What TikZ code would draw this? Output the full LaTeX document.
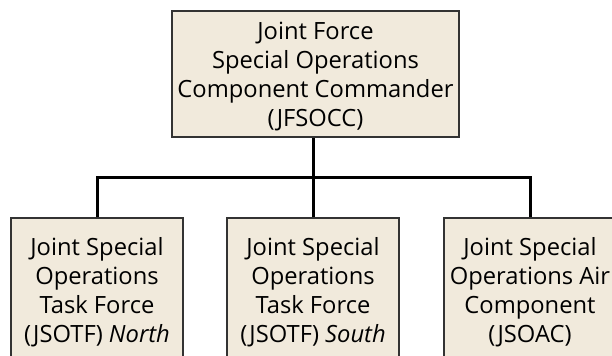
\documentclass[tikz,border=0pt]{standalone}
\usepackage{fontspec}
\setmainfont{Open Sans}
\usepackage{tikz}
\definecolor{unitfill}{RGB}{241,234,220}
\tikzset{
  unitbox/.style={draw=black!80, line width=1pt, fill=unitfill, align=center,
    inner sep=0pt, text depth=-4pt, font=\fontsize{17.8}{21.75}\selectfont},
  chain/.style={line width=2.25pt, black}
}

\begin{document}
\begin{tikzpicture}[x=0.75pt,y=0.75pt,yscale=-1,xscale=1]
\useasboundingbox (0,0) rectangle (612,356); %page is 612 x 356, lower boxes run off it

%Shape: Rectangle [id:jfsocc]
\node [unitbox, minimum width=215.25pt, minimum height=94.5pt] (jfsocc) at (315.5,74)
  {Joint Force\\Special Operations\\Component Commander\\(JFSOCC)};

%Shape: Rectangle [id:north]
\node [unitbox, minimum width=129pt, minimum height=108pt] (north) at (97,290)
  {Joint Special\\Operations\\Task Force\\(JSOTF) \textit{North}};
%Shape: Rectangle [id:south]
\node [unitbox, minimum width=129pt, minimum height=108pt] (south) at (313,290)
  {Joint Special\\Operations\\Task Force\\(JSOTF) \textit{South}};
%Shape: Rectangle [id:jsoac]
\node [unitbox, minimum width=129pt, minimum height=108pt] (jsoac) at (530,290)
  {Joint Special\\Operations Air\\Component\\(JSOAC)};

%Straight Lines [id:trunk]
\draw [chain] (south.north) -- (south.north |- jfsocc.south) ;
%Straight Lines [id:bar]
\draw [chain] (north.north) -- ++(0,-40) -| (jsoac.north) ;
\end{tikzpicture}
\end{document}
